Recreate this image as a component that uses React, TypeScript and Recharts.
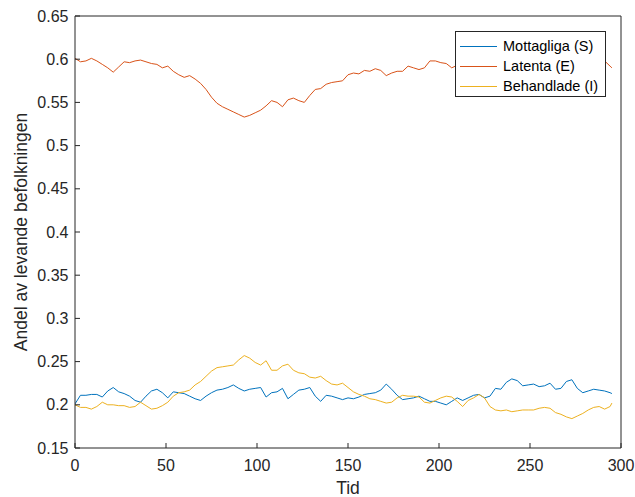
import React from 'react';
import { LineChart, Line, XAxis, YAxis, Legend } from 'recharts';

// tidssteg (var 3:e steg) och andelar för varje grupp
const tid = [
  0, 3, 6, 9, 12, 15, 18, 21, 24, 27,
  30, 33, 36, 39, 42, 45, 48, 51, 54, 57,
  60, 63, 66, 69, 72, 75, 78, 81, 84, 87,
  90, 93, 96, 99, 102, 105, 108, 111, 114, 117,
  120, 123, 126, 129, 132, 135, 138, 141, 144, 147,
  150, 153, 156, 159, 162, 165, 168, 171, 174, 177,
  180, 183, 186, 189, 192, 195, 198, 201, 204, 207,
  210, 213, 216, 219, 222, 225, 228, 231, 234, 237,
  240, 243, 246, 249, 252, 255, 258, 261, 264, 267,
  270, 273, 276, 279, 282, 285, 288, 291, 294, 295,
];

const mottagliga = [
  0.201, 0.211, 0.211, 0.212, 0.212, 0.209, 0.216, 0.220, 0.215, 0.213,
  0.210, 0.205, 0.203, 0.210, 0.216, 0.218, 0.214, 0.208, 0.215, 0.214,
  0.213, 0.210, 0.207, 0.205, 0.210, 0.214, 0.217, 0.218, 0.220, 0.223,
  0.219, 0.216, 0.218, 0.219, 0.220, 0.209, 0.214, 0.215, 0.219, 0.207,
  0.212, 0.217, 0.218, 0.220, 0.210, 0.204, 0.211, 0.210, 0.208, 0.206,
  0.208, 0.207, 0.209, 0.212, 0.213, 0.214, 0.217, 0.224, 0.218, 0.211,
  0.206, 0.207, 0.208, 0.210, 0.207, 0.204, 0.204, 0.202, 0.200, 0.204,
  0.208, 0.205, 0.208, 0.211, 0.212, 0.208, 0.210, 0.219, 0.218, 0.226,
  0.230, 0.228, 0.222, 0.223, 0.224, 0.221, 0.222, 0.225, 0.218, 0.219,
  0.227, 0.229, 0.219, 0.214, 0.216, 0.218, 0.217, 0.216, 0.214, 0.213,
];

const latenta = [
  0.601, 0.597, 0.598, 0.601, 0.598, 0.594, 0.590, 0.585, 0.591, 0.597,
  0.596, 0.598, 0.599, 0.597, 0.595, 0.594, 0.590, 0.592, 0.586, 0.582,
  0.579, 0.581, 0.577, 0.572, 0.565, 0.556, 0.549, 0.545, 0.542, 0.539,
  0.536, 0.533, 0.535, 0.538, 0.541, 0.546, 0.552, 0.550, 0.545, 0.553,
  0.555, 0.552, 0.550, 0.558, 0.565, 0.566, 0.571, 0.573, 0.574, 0.575,
  0.582, 0.584, 0.583, 0.587, 0.586, 0.589, 0.587, 0.581, 0.584, 0.586,
  0.586, 0.592, 0.590, 0.588, 0.590, 0.598, 0.598, 0.596, 0.595, 0.590,
  0.593, 0.597, 0.595, 0.598, 0.600, 0.597, 0.594, 0.596, 0.598, 0.601,
  0.599, 0.596, 0.598, 0.600, 0.597, 0.595, 0.597, 0.599, 0.601, 0.598,
  0.596, 0.598, 0.600, 0.598, 0.597, 0.599, 0.600, 0.598, 0.592, 0.590,
];

const behandlade = [
  0.200, 0.197, 0.197, 0.195, 0.198, 0.203, 0.200, 0.200, 0.199, 0.199,
  0.197, 0.198, 0.203, 0.199, 0.195, 0.196, 0.199, 0.203, 0.210, 0.214,
  0.215, 0.217, 0.223, 0.227, 0.233, 0.239, 0.243, 0.244, 0.245, 0.246,
  0.252, 0.257, 0.254, 0.249, 0.246, 0.251, 0.240, 0.240, 0.245, 0.247,
  0.240, 0.237, 0.236, 0.232, 0.231, 0.233, 0.228, 0.224, 0.223, 0.225,
  0.220, 0.215, 0.212, 0.210, 0.207, 0.206, 0.204, 0.202, 0.203, 0.208,
  0.211, 0.210, 0.210, 0.209, 0.203, 0.202, 0.205, 0.208, 0.210, 0.209,
  0.204, 0.198, 0.205, 0.208, 0.212, 0.208, 0.198, 0.194, 0.193, 0.194,
  0.192, 0.193, 0.194, 0.194, 0.194, 0.196, 0.197, 0.196, 0.191, 0.189,
  0.186, 0.184, 0.187, 0.190, 0.194, 0.197, 0.198, 0.195, 0.198, 0.202,
];

const xTicks = [0, 50, 100, 150, 200, 250, 300];
const yTicks = [0.15, 0.2, 0.25, 0.3, 0.35, 0.4, 0.45, 0.5, 0.55, 0.6, 0.65];

const series = [
  { key: 'S', name: 'Mottagliga (S)', color: '#0072BD' },
  { key: 'E', name: 'Latenta (E)', color: '#D95319' },
  { key: 'I', name: 'Behandlade (I)', color: '#EDB120' },
];

const data = tid.map((t, i) => ({
  tid: t,
  S: mottagliga[i],
  E: latenta[i],
  I: behandlade[i],
}));

const font = '"Liberation Sans", Arial, sans-serif';
const ink = '#262626';
const tickStyle = { fill: ink, fontSize: 16, fontFamily: font };

const LegendBox = () => (
  <div
    style={{
      boxSizing: 'border-box',
      width: 151,
      height: 66,
      paddingTop: 4,
      border: `1px solid ${ink}`,
      background: '#fff',
      fontFamily: font,
      fontSize: 14.5,
      color: '#000',
    }}
  >
    {series.map((s) => (
      <div key={s.key} style={{ display: 'flex', alignItems: 'center', height: 20 }}>
        <span style={{ width: 37, marginLeft: 4, marginRight: 6, borderTop: `1px solid ${s.color}` }} />
        <span>{s.name}</span>
      </div>
    ))}
  </div>
);

export default function App() {
  return (
    <div style={{ position: 'absolute', left: 0, top: 0, background: '#fff' }}>
      <LineChart width={635} height={497} data={data} margin={{ top: 15, right: 13, bottom: 0, left: 0 }}>
        <XAxis
          dataKey="tid"
          type="number"
          domain={[0, 300]}
          ticks={xTicks}
          allowDataOverflow
          height={49}
          stroke={ink}
          tickSize={-5}
          tickMargin={17}
          tick={tickStyle}
          label={{ value: 'Tid', position: 'insideBottom', offset: 3, fill: ink, fontSize: 17.5, fontFamily: font }}
        />
        <XAxis
          xAxisId="top"
          orientation="top"
          type="number"
          domain={[0, 300]}
          ticks={xTicks}
          allowDataOverflow
          height={1}
          stroke={ink}
          tickSize={-5}
          tick={false}
        />
        <YAxis
          type="number"
          domain={[0.15, 0.65]}
          ticks={yTicks}
          allowDataOverflow
          width={75}
          stroke={ink}
          tickSize={-5}
          tickMargin={11.5}
          tick={tickStyle}
          label={{
            value: 'Andel av levande befolkningen',
            angle: -90,
            position: 'insideLeft',
            offset: 21,
            fill: ink,
            fontSize: 17.5,
            fontFamily: font,
            style: { textAnchor: 'middle' },
          }}
        />
        <YAxis
          yAxisId="right"
          orientation="right"
          type="number"
          domain={[0.15, 0.65]}
          ticks={yTicks}
          allowDataOverflow
          width={1}
          stroke={ink}
          tickSize={-5}
          tick={false}
        />
        {series.map((s) => (
          <Line
            key={s.key}
            type="linear"
            dataKey={s.key}
            name={s.name}
            stroke={s.color}
            strokeWidth={1}
            dot={false}
            isAnimationActive={false}
          />
        ))}
        <Legend
          layout="vertical"
          align="center"
          verticalAlign="middle"
          content={() => <LegendBox />}
          wrapperStyle={{ left: 455, top: 31, width: 151, height: 66 }}
        />
      </LineChart>
    </div>
  );
}
